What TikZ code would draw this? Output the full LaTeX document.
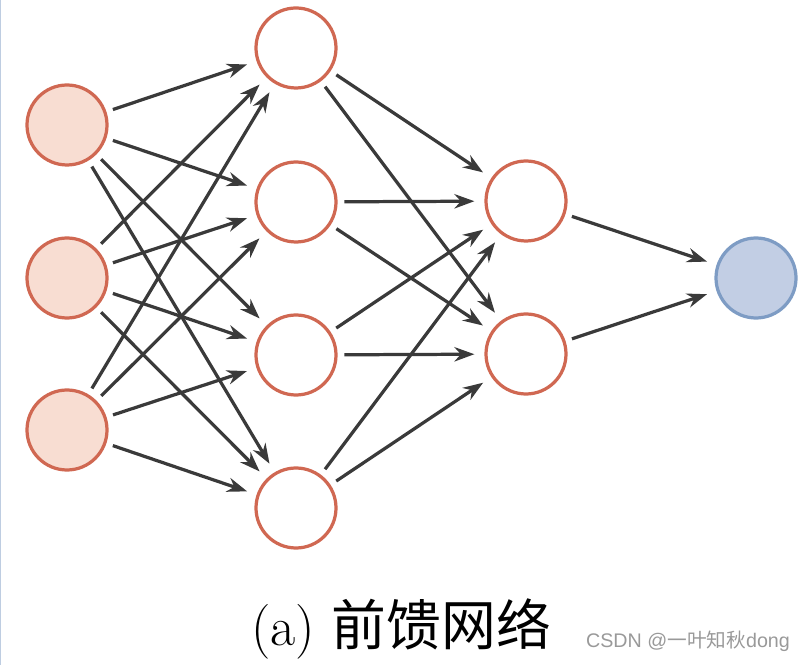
\documentclass[tikz,border=0pt]{standalone}
\usepackage{fontspec}
\usepackage{amsmath}
\newfontfamily\cjk{Noto Sans CJK SC}
\newfontfamily\wmfont{Liberation Sans}
\usetikzlibrary{arrows.meta}

\definecolor{neuronline}{RGB}{208,104,82}
\definecolor{inputfill}{RGB}{248,221,210}
\definecolor{outline}{RGB}{126,156,196}
\definecolor{outfill}{RGB}{194,206,228}
\definecolor{edgegray}{RGB}{58,58,58}

\tikzset{
  neuron/.style={circle, draw=neuronline, line width=2.3pt, fill=white,
    minimum size=2cm, inner sep=0pt},
  inneuron/.style={neuron, fill=inputfill},
  outneuron/.style={neuron, draw=outline, fill=outfill},
  link/.style={draw=edgegray, line width=2.3pt,
    -{Stealth[length=0.5cm, width=0.36cm]},
    shorten <=0.17cm, shorten >=0.25cm}
}

\begin{document}
\begin{tikzpicture}
    \useasboundingbox (0cm,0cm) rectangle (20.175cm,16.625cm);
    \draw[color=outline!50, line width=1pt] (0.01cm,0cm) -- (0.01cm,16.625cm);

    % layers
    \foreach \i/\y in {1/13.5,2/9.675,3/5.875}
      \node[inneuron] (In\i) at (1.675cm,\y cm) {};
    \foreach \i/\y in {1/15.425,2/11.575,3/7.75,4/3.925}
      \node[neuron] (HidA\i) at (7.4cm,\y cm) {};
    \foreach \i/\y in {1/11.6,2/7.775}
      \node[neuron] (HidB\i) at (13.15cm,\y cm) {};
    \node[outneuron] (Out) at (18.9cm,9.675cm) {};

    % connections
    \foreach \i in {1,...,3} \foreach \j in {1,...,4}
      \draw[link] (In\i) -- (HidA\j);
    \foreach \i in {1,...,4} \foreach \j in {1,2}
      \draw[link] (HidA\i) -- (HidB\j);
    \foreach \i in {1,2} \draw[link] (HidB\i) -- (Out);

    \node (Caption) at (10.03cm,0.9cm) {\fontsize{39}{44}\selectfont (a) {\cjk 前馈网络}};
    \node[text=black!40] (Mark) at (17.2cm,0.6cm)
      {\fontsize{14}{16}\selectfont\wmfont CSDN @{\cjk 一叶知秋}dong};
  \end{tikzpicture}
\end{document}
